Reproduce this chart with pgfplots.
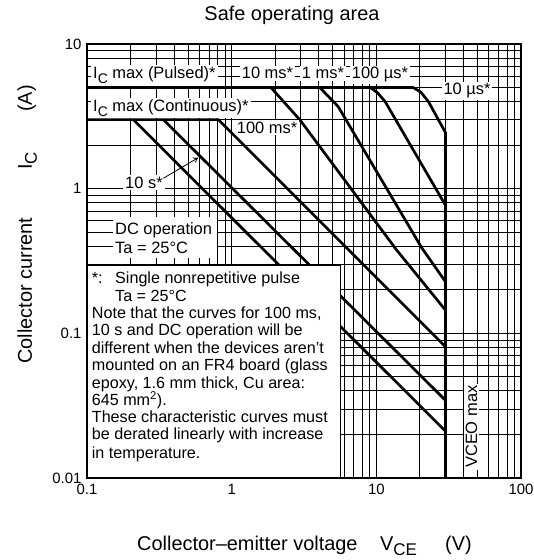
\documentclass[border=0pt]{standalone}
\usepackage{fontspec}
\setmainfont{Liberation Sans}
\usepackage{pgfplots}
\pgfplotsset{compat=1.18}
\usetikzlibrary{arrows.meta}
\newcommand\fs[1]{\fontsize{#1}{#1}\selectfont}
\newcommand\sub[1]{\raisebox{-0.28em}{\fs{14}#1}}
\begin{document}
\begin{tikzpicture}[x=1bp,y=1bp]
\begin{axis}[at={(0,0)},anchor=south west,scale only axis,width=434bp,height=434bp,
  xmode=log,ymode=log,xmin=0.1,xmax=100,ymin=0.01,ymax=10,
  xtick={0.1,1,10,100},xticklabels={0.1,1,10,100},
  ytick={0.01,0.1,1,10},yticklabels={0.01,0.1,1,10},
  minor xtick={0.2,0.3,0.4,0.5,0.6,0.7,0.8,0.9,2,3,4,5,6,7,8,9,20,30,40,50,60,70,80,90},
  minor ytick={0.02,0.03,0.04,0.05,0.06,0.07,0.08,0.09,0.2,0.3,0.4,0.5,0.6,0.7,0.8,0.9,2,3,4,5,6,7,8,9},
  grid=both,
  major grid style={black,line width=0.9bp},
  minor grid style={black,line width=0.9bp},
  axis line style={line width=1.8bp},
  major tick length=0pt, minor tick length=0pt,
  tick label style={font=\fs{15}},
  xticklabel style={yshift=-3bp},
  yticklabel style={xshift=-2bp},
]
% 10 us (with pulsed Ic max)
\addplot[black,line width=2.7bp,line join=round] coordinates {(0.1,5) (18,5) (20.3,4.65) (22.9,4.0) (30,2.45)};
% 100 us
\addplot[black,line width=2.7bp,line join=round] coordinates {(9.1,5) (10.2,4.6) (11.5,4.0) (30,0.77)};
% 1 ms
\addplot[black,line width=2.7bp,line join=round] coordinates {(4.07,5) (5.45,3.69) (20.6,0.39) (30,0.228)};
% 10 ms
\addplot[black,line width=2.7bp,line join=round] coordinates {(1.87,5) (2.97,2.98) (13.8,0.377) (30,0.145)};
% 100 ms (with continuous Ic max)
\addplot[black,line width=2.7bp,line join=round] coordinates {(0.1,3) (0.81,3) (30,0.081)};
% 10 s
\addplot[black,line width=2.7bp,line join=round] coordinates {(0.337,3) (30,0.0345)};
% DC
\addplot[black,line width=2.7bp,line join=round] coordinates {(0.209,3) (30,0.0211)};
% VCEO max
\addplot[black,line width=3.6bp] coordinates {(30,2.45) (30,0.01)};
\end{axis}
% labels
\begin{scope}[every node/.style={fill=white,inner xsep=2bp,inner ysep=2bp,font=\fs{16.5}}]
\node[anchor=base west] at (4,399) {I\sub{C} max (Pulsed)*};
\node[anchor=base west] at (152.7,399) {10 ms*};
\node[anchor=base west] at (212.7,399) {1 ms*};
\node[anchor=base west] at (262.7,399) {100 µs*};
\node[anchor=base west] at (354.3,383) {10 µs*};
\node[anchor=base west] at (4,366.3) {I\sub{C} max (Continuous)*};
\node[anchor=base west] at (147.7,344.7) {100 ms*};
\node[anchor=base west] at (36,289.7) {10 s*};
\fill[white] (26,220) rectangle (130,261);
\node[anchor=base west,fill=none] at (26,243.7) {DC operation};
\node[anchor=base west,fill=none] at (26,224) {Ta = 25°C};
\node[anchor=base west,rotate=90] at (390,8) {VCEO max};
\end{scope}
\draw[line width=0.8bp,-{To[length=5bp,width=6bp]}] (76.3,299.7) -- (111.3,320.3);
% note box
\filldraw[fill=white,draw=black,line width=0.8bp] (0,0) rectangle (253,213);
\draw[line width=1.8bp] (0,214) -- (0,0) -- (254,0);
\begin{scope}[every node/.style={inner sep=0pt,anchor=base west,font=\fs{16.2}}]
\node at (4.7,194) {\makebox[23.3bp][l]{*:}Single nonrepetitive pulse};
\node at (28,176.3) {Ta = 25°C};
\node at (4.7,159.7) {Note that the curves for 100 ms,};
\node at (4.7,142) {10 s and DC operation will be};
\node at (4.7,124.7) {different when the devices aren’t};
\node at (4.7,107) {mounted on an FR4 board (glass};
\node at (4.7,89.7) {epoxy, 1.6 mm thick, Cu area:};
\node at (4.7,72) {645 mm\textsuperscript{2}).};
\node at (4.7,55.3) {These characteristic curves must};
\node at (4.7,38) {be derated linearly with increase};
\node at (4.7,19.7) {in temperature.};
\end{scope}
% title and axis labels
\node[anchor=base,font=\fs{20}] at (205,457.3) {Safe operating area};
\node[anchor=base west,font=\fs{20},inner sep=0pt] at (50,-72.5) {Collector–emitter voltage};
\node[anchor=base west,font=\fs{20},inner sep=0pt] at (293,-72.5) {V\raisebox{-0.25em}{\fs{17}CE}};
\node[anchor=base west,font=\fs{20},inner sep=0pt] at (358,-72.5) {(V)};
\node[anchor=base west,font=\fs{20},inner sep=0pt,rotate=90] at (-55,114) {Collector current};
\node[anchor=base west,font=\fs{20},inner sep=0pt,rotate=90] at (-55,308) {I\raisebox{-0.25em}{\fs{17}C}};
\node[anchor=base west,font=\fs{20},inner sep=0pt,rotate=90] at (-55,366) {(A)};
\pgfresetboundingbox
\path[use as bounding box] (-87,-82) rectangle (447,478);
\end{tikzpicture}
\end{document}
